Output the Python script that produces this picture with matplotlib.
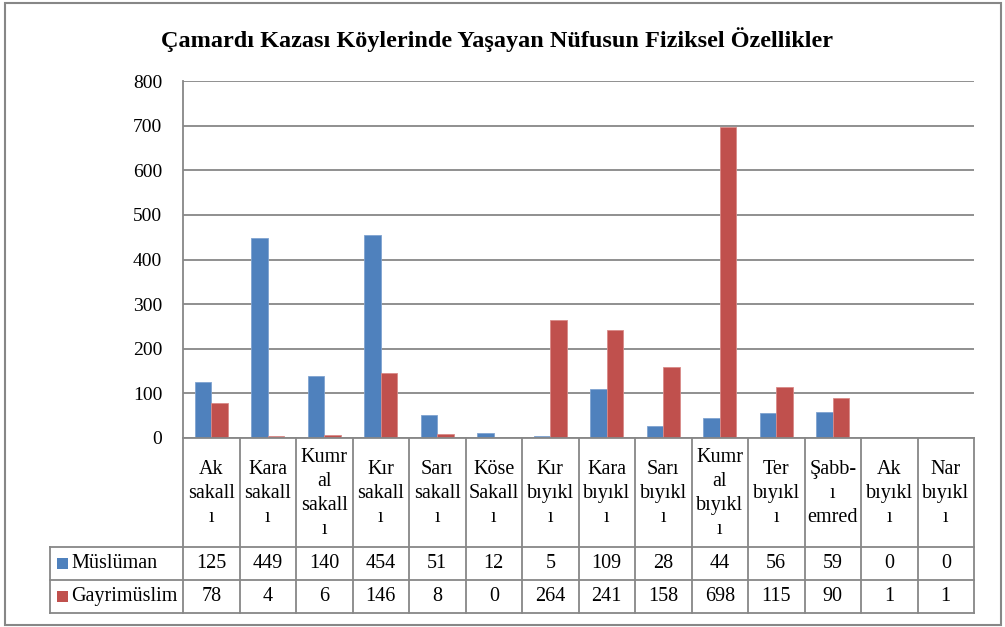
import matplotlib
matplotlib.use("Agg")
import matplotlib.pyplot as plt
from matplotlib.patches import Rectangle

plt.rcParams["font.family"] = ["Liberation Serif", "DejaVu Serif"]

# ---------------------------------------------------------------------------
# Data
# ---------------------------------------------------------------------------
categories = [
    "Ak\nsakall\nı", "Kara\nsakall\nı", "Kumr\nal\nsakall\nı", "Kır\nsakall\nı",
    "Sarı\nsakall\nı", "Köse\nSakall\nı", "Kır\nbıyıkl\nı", "Kara\nbıyıkl\nı",
    "Sarı\nbıyıkl\nı", "Kumr\nal\nbıyıkl\nı", "Ter\nbıyıkl\nı", "Şabb-\nı\nemred",
    "Ak\nbıyıkl\nı", "Nar\nbıyıkl\nı",
]
muslim = [125, 449, 140, 454, 51, 12, 5, 109, 28, 44, 56, 59, 0, 0]
nonmuslim = [78, 4, 6, 146, 8, 0, 264, 241, 158, 698, 115, 90, 1, 1]
series_names = ["Müslüman", "Gayrimüslim"]
yticks = [0, 100, 200, 300, 400, 500, 600, 700, 800]

title = "Çamardı Kazası Köylerinde Yaşayan Nüfusun Fiziksel Özellikler"

BLUE = "#4F81BD"
RED = "#C0504D"
GRID = "#878787"

W, H = 1005, 627
fig = plt.figure(figsize=(W / 100, H / 100), dpi=100)

# outer chart frame
fig.patches.append(Rectangle((5 / W, 2 / H), 996 / W, 622 / H,
                             transform=fig.transFigure, fill=False,
                             edgecolor=GRID, linewidth=1.5))

# plot area in pixel terms
left, right, top, base, bottom = 183, 974, 81, 438, 613
row1, row2 = 547, 580
leg_left = 50
n = len(categories)
colw = (right - left) / n

ax = fig.add_axes([left / W, 1 - base / H, (right - left) / W, (base - top) / H])
x = list(range(n))
bw = 0.29
ax.bar([i - bw / 2 for i in x], muslim, width=bw, color=BLUE,
       edgecolor="#7FA3D0", linewidth=0.6, zorder=3)
ax.bar([i + bw / 2 for i in x], nonmuslim, width=bw, color=RED,
       edgecolor="#D98A88", linewidth=0.6, zorder=3)
ax.set_xlim(-0.5, n - 0.5)
ax.set_ylim(0, 800)
ax.set_yticks(yticks)
ax.set_xticks([])
ax.yaxis.grid(True, color=GRID, linewidth=1.3)
ax.set_axisbelow(True)
for s in ["top", "right", "bottom"]:
    ax.spines[s].set_visible(False)
ax.spines["left"].set_color(GRID)
ax.spines["left"].set_linewidth(1.3)
ax.tick_params(axis="y", length=0, pad=15, labelsize=14)

fig.text(497 / W, 1 - 40 / H, title, ha="center", va="center",
         fontsize=17.5, fontweight="bold")

# data table below the bars
tax = fig.add_axes([leg_left / W, 1 - bottom / H, (right - leg_left) / W,
                    (bottom - base) / H])
tax.set_xlim(-0.5 - (left - leg_left) / colw, n - 0.5)
tax.set_ylim(bottom - base, 0)
tax.axis("off")

y1, y2, y3 = row1 - base, row2 - base, bottom - base
lkw = dict(color=GRID, linewidth=1.3, clip_on=False)
for i in range(n + 1):
    tax.plot([i - 0.5, i - 0.5], [0, y3], **lkw)
x0 = -0.5 - (left - leg_left) / colw
tax.plot([x0, x0], [y1, y3], **lkw)
tax.plot([-0.5, n - 0.5], [0, 0], **lkw)
for yy in (y1, y2, y3):
    tax.plot([x0, n - 0.5], [yy, yy], **lkw)

for i, lab in enumerate(categories):
    tax.text(i, (0 + y1) / 2 + 1, lab, ha="center", va="center",
             multialignment="center", fontsize=14.5, linespacing=1.38)
    tax.text(i, (y1 + y2) / 2, str(muslim[i]), ha="center", va="center",
             fontsize=14.5)
    tax.text(i, (y2 + y3) / 2, str(nonmuslim[i]), ha="center", va="center",
             fontsize=14.5)

key = 11 / colw
for (yy0, yy1), name, col in zip([(y1, y2), (y2, y3)], series_names, [BLUE, RED]):
    ymid = (yy0 + yy1) / 2
    tax.add_patch(Rectangle((x0 + 7 / colw, ymid - 5.5), key, 11,
                            facecolor=col, edgecolor="none", clip_on=False))
    tax.text(x0 + 21 / colw, ymid, name, ha="left", va="center", fontsize=14.5)

fig.savefig("out.png", dpi=100)
